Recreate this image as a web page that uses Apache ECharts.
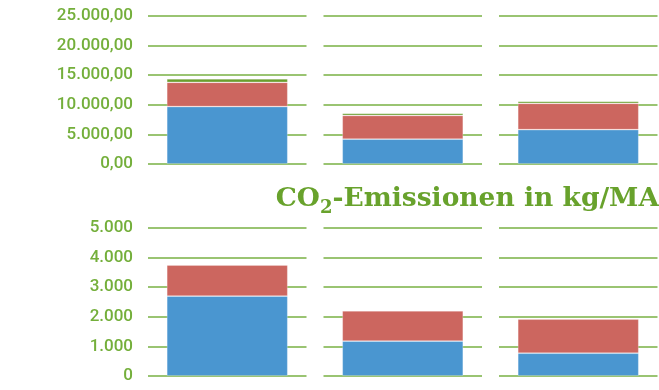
<!DOCTYPE html>
<html>
<head>
<meta charset="utf-8">
<script src="https://cdn.jsdelivr.net/npm/echarts@6/dist/echarts.min.js"></script>
<style>
html, body { margin: 0; padding: 0; background: #fff; }
#myChart { width: 659px; height: 390px; }
</style>
</head>
<body>
<div id="myChart"></div>
<script>
// Daten
var categories = ['1', '2', '3'];
var energyBlue = [9700, 4200, 5800];
var energyRed = [4100, 4000, 4450];
var energyGreen = [600, 350, 330];
var co2Blue = [2700, 1180, 770];
var co2Red = [1050, 1020, 1150];
var energyTicks = ['0,00', '5.000,00', '10.000,00', '15.000,00', '20.000,00', '25.000,00'];
var co2Ticks = ['0', '1.000', '2.000', '3.000', '4.000', '5.000'];
// Titel: CO{2}-Emissionen in kg/MA
var co2Title = ['CO', '2', '-Emissionen in kg/MA'];

var green = '#74af3b';
var colors = { blue: '#4a96d0', red: '#cc665f', green: '#6a9e2e' };
var lefts = [148, 323.5, 499];
var gridW = 158.5;

var grids = [], xAxes = [], yAxes = [], series = [];

function addPanel(top, height, max, step, ticks, stacks) {
  for (var i = 0; i < categories.length; i++) {
    var idx = grids.length;
    grids.push({ left: lefts[i], top: top, width: gridW, height: height });
    xAxes.push({
      type: 'category', gridIndex: idx, data: [categories[i]],
      axisLine: { show: false }, axisTick: { show: false }, axisLabel: { show: false }
    });
    yAxes.push({
      type: 'value', gridIndex: idx, min: 0, max: max, interval: step,
      axisLine: { show: false }, axisTick: { show: false },
      splitLine: { lineStyle: { color: '#78b043', width: 1.5 } },
      axisLabel: {
        show: i === 0, margin: 15, color: green,
        fontFamily: 'Roboto', fontWeight: 500, fontSize: 17,
        formatter: function (v) { return ticks[Math.round(v / step)]; }
      }
    });
    stacks.forEach(function (s) {
      series.push({
        type: 'bar', stack: 'p' + idx, xAxisIndex: idx, yAxisIndex: idx,
        barWidth: 121, data: [s.data[i]],
        itemStyle: { color: s.color, borderColor: 'rgba(255,255,255,0.3)', borderWidth: 0.8 }
      });
    });
  }
}

addPanel(16, 148, 25000, 5000, energyTicks, [
  { data: energyBlue, color: colors.blue },
  { data: energyRed, color: colors.red },
  { data: energyGreen, color: colors.green }
]);
addPanel(228, 148, 5000, 1000, co2Ticks, [
  { data: co2Blue, color: colors.blue },
  { data: co2Red, color: colors.red }
]);

var titleFont = { color: '#68a22c', fontFamily: 'DejaVu Serif', fontWeight: 'bold' };

var myChart = echarts.init(document.getElementById('myChart'));
myChart.setOption({
  animation: false,
  title: {
    text: '{a|' + co2Title[0] + '}{s|' + co2Title[1] + '}{a|' + co2Title[2] + '}',
    right: -5, top: 176,
    textStyle: {
      rich: {
        a: Object.assign({ fontSize: 26.5 }, titleFont),
        s: Object.assign({ fontSize: 18, padding: [18, 0, 0, 0] }, titleFont)
      }
    }
  },
  grid: grids,
  xAxis: xAxes,
  yAxis: yAxes,
  series: series
});
</script>
</body>
</html>
